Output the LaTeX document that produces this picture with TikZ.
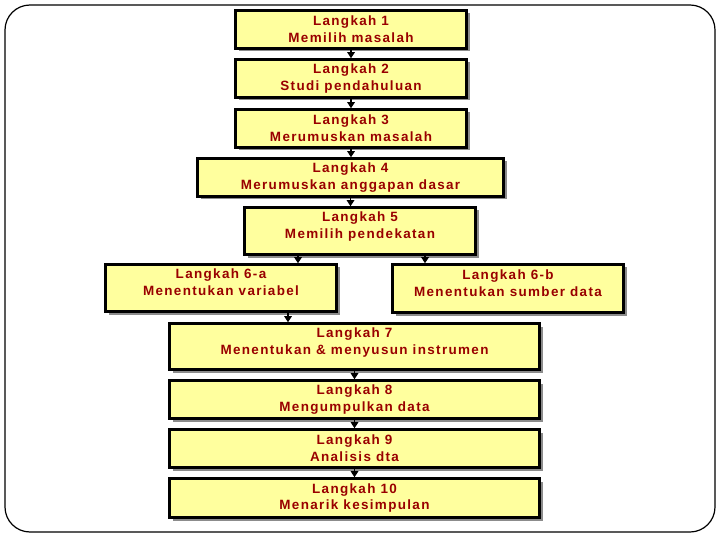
\documentclass[tikz,border=0pt]{standalone}
\usepackage{fontspec}
\setmainfont{Liberation Sans}[LetterSpace=10]
\usepackage{xcolor}
\usetikzlibrary{arrows.meta, shadows}

\definecolor{boxfill}{HTML}{FFFF9E}
\definecolor{steptext}{HTML}{990000}

\tikzset{
    langkah/.style={draw, rectangle, line width=2.6bp, fill=boxfill, align=center,
        text=steptext, font=\fontsize{13.5}{17}\selectfont\bfseries, inner sep=0pt,
        drop shadow={shadow xshift=3bp, shadow yshift=-3bp, fill=black!45, opacity=1}},
    tinggi/.style={text depth=11bp},
    panah/.style={-{Triangle[width=7.5bp,length=6bp]}, line width=1.4bp}
}

\begin{document}
\begin{tikzpicture}[x=1bp, y=-1bp]

    \useasboundingbox (0,0) rectangle (720,540);
    % Frame
    \draw[line width=1.2bp, rounded corners=25bp] (5,5) rectangle (715,532);

    % Langkah 1 - 5
    \node[langkah, minimum width=231bp, minimum height=38bp] (l1) at (351, 29.5) {Langkah 1\\Memilih masalah};
    \node[langkah, minimum width=231bp, minimum height=38bp] (l2) at (351, 78.5) {Langkah 2\\Studi pendahuluan};
    \node[langkah, minimum width=231bp, minimum height=38bp] (l3) at (351, 128.5) {Langkah 3\\Merumuskan masalah};
    \node[langkah, minimum width=306bp, minimum height=38bp] (l4) at (350.5, 177.5) {Langkah 4\\Merumuskan anggapan dasar};
    \node[langkah, tinggi, minimum width=231bp, minimum height=47bp] (l5) at (360, 231) {Langkah 5\\Memilih pendekatan};

    % Langkah 6
    \node[langkah, tinggi, minimum width=231bp, minimum height=47bp] (l6a) at (221, 288) {Langkah 6-a\\Menentukan variabel};
    \node[langkah, tinggi, minimum width=231bp, minimum height=48bp] (l6b) at (508, 288.5) {Langkah 6-b\\Menentukan sumber data};

    % Langkah 7 - 10
    \node[langkah, tinggi, minimum width=370bp, minimum height=46bp] (l7) at (354.5, 346.5) {Langkah 7\\Menentukan \& menyusun instrumen};
    \node[langkah, minimum width=370bp, minimum height=38bp] (l8) at (354.5, 399.5) {Langkah 8\\Mengumpulkan data};
    \node[langkah, minimum width=370bp, minimum height=38bp] (l9) at (354.5, 448.5) {Langkah 9\\Analisis dta};
    \node[langkah, minimum width=370bp, minimum height=39bp] (l10) at (354.5, 498) {Langkah 10\\Menarik kesimpulan};

    % Arrows
    \draw[panah] (l1.south) -- (l2.north);
    \draw[panah] (l2.south) -- (l3.north);
    \draw[panah] (l3.south) -- (l3.south |- l4.north);
    \draw[panah] (l4.south) -- (l4.south |- l5.north);
    \draw[panah] ([xshift=-62bp]l5.south) -- ([xshift=-62bp]l5.south |- l6a.north);
    \draw[panah] ([xshift=65bp]l5.south) -- ([xshift=65bp]l5.south |- l6b.north);
    \draw[panah] ([xshift=67bp]l6a.south) -- ([xshift=67bp]l6a.south |- l7.north);
    \draw[panah] (l7.south) -- (l8.north);
    \draw[panah] (l8.south) -- (l9.north);
    \draw[panah] (l9.south) -- (l10.north);

\end{tikzpicture}
\end{document}
